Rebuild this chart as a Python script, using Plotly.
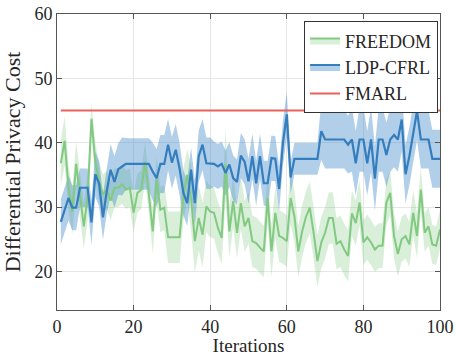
import plotly.graph_objects as go

iterations = list(range(1, 101))

freedom_mean = [36.8, 40.3, 33.0, 29.3, 36.7, 32.0, 27.0, 31.5, 43.7, 37.0,
                34.0, 32.0, 32.7, 31.0, 33.0, 33.0, 33.5, 32.7, 33.0, 29.1,
                32.2, 32.7, 37.0, 31.9, 26.2, 34.3, 29.6, 29.9, 25.3, 25.3,
                25.3, 25.3, 31.9, 35.0, 31.4, 24.7, 28.3, 25.7, 30.1, 29.3,
                29.1, 26.8, 25.2, 36.6, 26.2, 30.9, 26.0, 30.6, 27.0, 28.3,
                24.7, 24.4, 23.7, 23.1, 31.4, 23.1, 29.1, 25.5, 25.2, 24.7,
                31.4, 28.5, 23.1, 26.2, 28.5, 29.9, 26.0, 21.6, 24.5, 26.0,
                28.3, 28.3, 24.3, 24.7, 23.4, 22.4, 29.0, 27.5, 30.7, 24.5,
                25.3, 24.5, 23.4, 24.0, 24.0, 30.7, 32.2, 25.5, 22.7, 25.0,
                25.5, 24.2, 29.1, 25.5, 32.7, 26.0, 27.0, 24.2, 24.0, 26.5]
freedom_spread = [3.5, 3.8, 3.5, 3.5, 3.5, 3.5, 3.5, 3.5, 2.5, 3.0,
                  3.0, 3.0, 3.0, 3.0, 3.0, 3.0, 3.0, 3.0, 3.0, 3.0,
                  3.0, 3.0, 3.0, 3.0, 3.5, 3.5, 3.5, 3.5, 4.0, 4.0,
                  4.0, 4.0, 4.0, 4.0, 5.0, 5.0, 5.0, 5.0, 4.0, 4.0,
                  4.0, 4.0, 4.0, 5.5, 4.0, 4.0, 4.0, 4.0, 4.0, 4.0,
                  4.0, 4.0, 4.0, 4.0, 4.0, 4.0, 4.0, 4.0, 4.0, 4.0,
                  4.0, 4.0, 4.0, 4.0, 4.0, 4.0, 4.0, 4.0, 4.0, 4.0,
                  4.0, 4.0, 4.0, 4.0, 4.0, 4.0, 3.5, 3.5, 3.5, 3.5,
                  3.5, 3.5, 3.5, 3.5, 3.5, 3.5, 3.5, 3.5, 3.5, 3.5,
                  3.5, 3.5, 3.5, 3.5, 3.5, 3.0, 3.0, 3.0, 3.0, 3.0]

ldp_mean = [27.7, 29.6, 31.4, 29.9, 29.9, 33.0, 33.0, 33.0, 27.6, 35.1,
            33.6, 28.4, 32.5, 35.8, 33.9, 35.9, 36.3, 36.7, 36.7, 36.7,
            36.7, 36.7, 36.7, 36.7, 35.5, 34.5, 36.7, 36.7, 39.7, 36.9,
            38.9, 36.0, 32.2, 30.6, 35.8, 30.6, 37.9, 39.7, 36.8, 36.8,
            36.7, 36.3, 36.7, 35.3, 36.6, 34.5, 33.9, 38.0, 37.0, 34.0,
            37.9, 33.7, 37.9, 33.7, 33.7, 37.6, 37.5, 32.8, 40.0, 44.4,
            34.6, 37.5, 37.5, 37.5, 37.5, 37.5, 37.5, 37.5, 41.8, 40.5,
            40.5, 40.5, 40.5, 40.5, 40.5, 39.7, 40.5, 36.8, 40.5, 40.5,
            36.8, 40.5, 34.4, 40.5, 40.5, 38.1, 40.5, 41.2, 40.5, 43.6,
            35.1, 37.9, 41.2, 44.9, 40.5, 40.5, 40.5, 37.5, 37.5, 37.5]
ldp_spread = [3.5, 3.5, 3.5, 3.5, 3.5, 3.0, 3.0, 3.0, 3.5, 3.5,
              3.5, 3.5, 3.5, 4.0, 4.0, 4.0, 4.5, 4.0, 4.0, 4.0,
              4.0, 4.0, 4.0, 4.0, 4.5, 4.5, 4.5, 4.5, 4.0, 4.0,
              4.0, 4.0, 3.5, 3.5, 3.5, 3.5, 4.0, 4.0, 4.0, 4.0,
              3.5, 3.5, 3.5, 3.5, 3.5, 3.5, 3.5, 3.5, 3.5, 3.5,
              3.5, 3.5, 3.5, 3.5, 3.5, 3.5, 3.5, 3.5, 3.5, 3.5,
              2.5, 2.5, 2.5, 2.5, 2.5, 2.5, 2.5, 2.5, 4.5, 4.5,
              4.5, 4.5, 4.5, 4.5, 4.5, 4.5, 5.0, 5.0, 5.0, 5.0,
              5.0, 5.0, 5.0, 5.0, 5.0, 5.0, 5.0, 5.0, 5.0, 5.0,
              4.5, 4.5, 4.5, 4.5, 4.5, 4.5, 4.5, 4.5, 4.5, 4.5]

fmarl_mean = [45.0] * len(iterations)

GREEN = "rgb(130,201,130)"
GREEN_FILL = "rgba(130,201,130,0.30)"
BLUE = "rgb(52,125,190)"
BLUE_FILL = "rgba(60,135,200,0.40)"
RED = "rgb(232,98,92)"
FONT = "Liberation Serif, Times New Roman, serif"

fig = go.Figure()

# legend-only entries
fig.add_trace(go.Scatter(x=[None], y=[None], mode="lines", name="FREEDOM",
                         line=dict(color=GREEN, width=2), fill="toself",
                         fillcolor=GREEN_FILL, legendgroup="f"))
fig.add_trace(go.Scatter(x=[None], y=[None], mode="lines", name="LDP-CFRL",
                         line=dict(color=BLUE, width=2), fill="toself",
                         fillcolor=BLUE_FILL, legendgroup="l"))

def band(mean, spread, fillcolor, group):
    lower = [m - s for m, s in zip(mean, spread)]
    upper = [m + s for m, s in zip(mean, spread)]
    fig.add_trace(go.Scatter(x=iterations, y=lower, mode="lines",
                             line=dict(width=0, color=fillcolor),
                             showlegend=False, hoverinfo="skip", legendgroup=group))
    fig.add_trace(go.Scatter(x=iterations, y=upper, mode="lines",
                             line=dict(width=0, color=fillcolor), fill="tonexty",
                             fillcolor=fillcolor, showlegend=False,
                             hoverinfo="skip", legendgroup=group))

band(freedom_mean, freedom_spread, GREEN_FILL, "f")
band(ldp_mean, ldp_spread, BLUE_FILL, "l")

fig.add_trace(go.Scatter(x=iterations, y=freedom_mean, mode="lines",
                         line=dict(color=GREEN, width=2), showlegend=False,
                         legendgroup="f"))
fig.add_trace(go.Scatter(x=iterations, y=ldp_mean, mode="lines",
                         line=dict(color=BLUE, width=2.2), showlegend=False,
                         legendgroup="l"))
fig.add_trace(go.Scatter(x=iterations, y=fmarl_mean, mode="lines", name="FMARL",
                         line=dict(color=RED, width=2)))

axis_common = dict(
    showline=True, linecolor="#555555", linewidth=1, mirror="ticks",
    ticks="inside", ticklen=5, tickcolor="#555555",
    showgrid=True, gridcolor="#e6e6e6", gridwidth=1, zeroline=False,
    tickfont=dict(family=FONT, size=18, color="#262626"),
    automargin=False,
)

fig.update_layout(
    width=456, height=356,
    margin=dict(l=57, r=16, t=14, b=46),
    paper_bgcolor="white", plot_bgcolor="white",
    font=dict(family=FONT, size=18, color="#262626"),
    xaxis=dict(range=[0, 100], tickvals=[0, 20, 40, 60, 80, 100],
               title=dict(text="Iterations", font=dict(family=FONT, size=19)),
               **axis_common),
    yaxis=dict(range=[14, 60], tickvals=[20, 30, 40, 50, 60],
               title=dict(text="Differential Privacy Cost",
                          font=dict(family=FONT, size=22)),
               **axis_common),
    legend=dict(x=0.995, xanchor="right", y=0.975, yanchor="top",
                bgcolor="white", bordercolor="#333333", borderwidth=1,
                font=dict(family=FONT, size=18, color="#262626"),
                tracegroupgap=0, itemwidth=30),
    showlegend=True,
)

fig.write_html("out.html")
